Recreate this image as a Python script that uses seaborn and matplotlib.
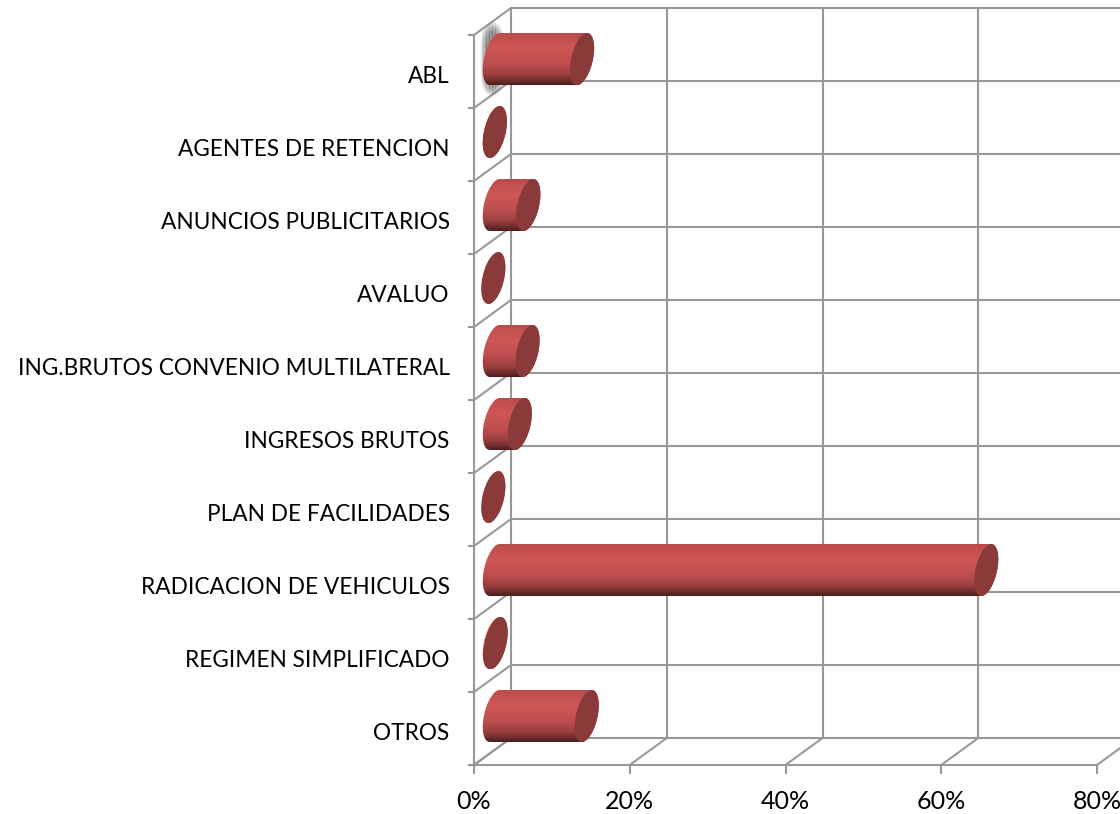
import numpy as np
import pandas as pd
import seaborn as sns
import matplotlib.pyplot as plt
from matplotlib.path import Path
from matplotlib.transforms import Affine2D
from matplotlib.colors import LinearSegmentedColormap
from matplotlib.ticker import PercentFormatter

categories = ['ABL', 'AGENTES DE RETENCION', 'ANUNCIOS PUBLICITARIOS', 'AVALUO',
              'ING.BRUTOS CONVENIO MULTILATERAL', 'INGRESOS BRUTOS',
              'PLAN DE FACILIDADES', 'RADICACION DE VEHICULOS',
              'REGIMEN SIMPLIFICADO', 'OTROS']
values = [11.5, 0.3, 4.6, 0.1, 4.5, 3.5, 0.1, 63.4, 0.4, 12.1]
x_ticks = [0, 20, 40, 60, 80]

sns.set_theme(style='white')
plt.rcParams['font.family'] = ['Lato', 'DejaVu Sans']

W, H = 1120, 814
fig = plt.figure(figsize=(W / 100, H / 100), dpi=100)
# the axes is the front plane of the fake 3D box
ax = fig.add_axes([474 / W, 1 - 765 / H, 623 / W, 730 / H])

df = pd.DataFrame({'cat': categories, 'val': values})
sns.barplot(data=df, x='val', y='cat', color='#c0504d', width=0.712, ax=ax, zorder=3)
ax.set_xlim(0, 80)
ax.set_ylim(9.5, -0.5)
ax.set_xlabel('')
ax.set_ylabel('')
ax.patch.set_alpha(0)

grid_col = '#989898'
lw = 1.5
n = len(categories)
edges = np.arange(n + 1) - 0.5

# back wall sits 37px right and 27px up, bars are half way
back_tr = ax.transData + Affine2D().translate(37, 27)
mid_tr = ax.transData + Affine2D().translate(18.5, 12.5)

for e in edges:
    ax.plot([0, 90], [e, e], transform=back_tr, color=grid_col, lw=lw, clip_on=False, zorder=1)
for t in x_ticks:
    ax.plot([t, t], [-0.5, 9.5], transform=back_tr, color=grid_col, lw=lw, clip_on=False, zorder=1)
    # floor diagonals
    x0, y0 = ax.transData.transform((t, 9.5))
    ax.plot([x0, x0 + 37], [y0, y0 + 27], transform=Affine2D(), color=grid_col, lw=lw, clip_on=False, zorder=1)
for e in edges:
    x0, y0 = ax.transData.transform((0, e))
    ax.plot([x0, x0 + 37], [y0, y0 + 27], transform=Affine2D(), color=grid_col, lw=lw, clip_on=False, zorder=1)

# spines and ticks
for s in ['top', 'right']:
    ax.spines[s].set_visible(False)
for s in ['left', 'bottom']:
    ax.spines[s].set_color(grid_col)
    ax.spines[s].set_linewidth(lw)
ax.set_xticks(x_ticks)
ax.xaxis.set_major_formatter(PercentFormatter(decimals=0))
ax.tick_params(axis='x', length=6.5, width=lw, color=grid_col, labelsize=18, labelcolor='black', pad=11.5, bottom=True)
ax.tick_params(axis='y', length=0, labelsize=16.3, labelcolor='black', pad=17.5)
ax.set_yticks(edges, minor=True)
ax.tick_params(axis='y', which='minor', length=4.5, width=lw, color=grid_col, left=True)
for lab in ax.get_yticklabels():
    lab.set_transform(lab.get_transform() + Affine2D().translate(0, -3))

# grey smudge behind the first bar
gx, gy = np.meshgrid(np.linspace(-1, 1, 60), np.linspace(-1, 1, 100))
smudge = np.zeros((100, 60, 4))
smudge[..., :3] = 0.45
smudge[..., 3] = np.clip(1.3 * (1 - gx ** 2 - gy ** 4), 0, 1) * (0.8 + 0.2 * np.cos(gx * 25))
sm = ax.imshow(smudge, extent=(-1.6, 1.6, 0.52, -0.52), aspect='auto', transform=mid_tr, zorder=2,
               interpolation='bilinear')
sm.set_clip_box(fig.bbox)

# cylinder shading, top to bottom
shade = LinearSegmentedColormap.from_list('cyl', [
    (0.0, '#b84b4b'), (0.08, '#c24f4f'), (0.3, '#cf5656'), (0.6, '#bd4e4e'),
    (0.8, '#9b3f3f'), (0.92, '#6e2c2c'), (1.0, '#4a1c1c')])
grad = np.linspace(0, 1, 256).reshape(-1, 1)

# ellipse sizes in px converted to data units
x_unit = 623 / 80
A = 11 / x_unit
K = 5 / x_unit
half = 0.712 / 2


def ellipse(cx, cy, t):
    # y axis is inverted, so -sin(t) in data is up on screen
    return cx + A * np.cos(t) + K * np.sin(t), cy - half * np.sin(t)


for bar, v, i in zip(ax.patches, values, range(n)):
    t_left = np.linspace(np.pi / 2, 3 * np.pi / 2, 40)
    t_right = np.linspace(-np.pi / 2, np.pi / 2, 40)
    lx, ly = ellipse(0.3, i, t_left)
    rx, ry = ellipse(v, i, t_right)
    body = Path(np.column_stack([np.r_[lx, rx, lx[0]], np.r_[ly, ry, ly[0]]]), closed=True)
    bar.set_transform(mid_tr)
    bar.set_clip_box(fig.bbox)
    bar.set_clip_path(body, mid_tr)
    im = ax.imshow(grad, cmap=shade, extent=(-3, v + 3, i + half, i - half), aspect='auto',
                   transform=mid_tr, zorder=4, interpolation='bilinear')
    im.set_clip_box(fig.bbox)
    im.set_clip_path(body, mid_tr)
    # end cap
    t = np.linspace(0, 2 * np.pi, 80)
    cx, cy = ellipse(v, i, t)
    ax.fill(cx, cy, color='#8a3a39', lw=0, transform=mid_tr, clip_on=False, zorder=5)

ax.set_xlim(0, 80)
ax.set_ylim(9.5, -0.5)

plt.savefig('out.png', dpi=100)
